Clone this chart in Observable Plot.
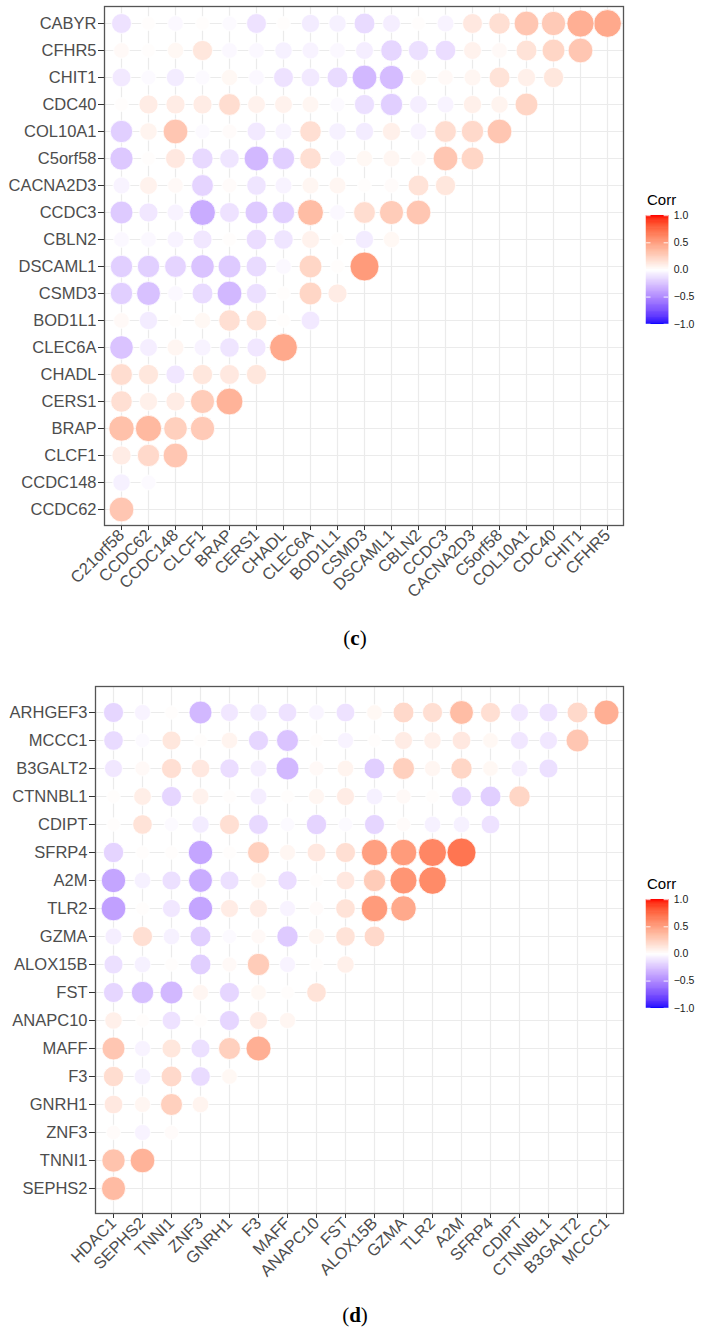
<!DOCTYPE html>
<html><head><meta charset="utf-8">
<script src="https://cdn.jsdelivr.net/npm/d3@7"></script>
<script src="https://cdn.jsdelivr.net/npm/@observablehq/plot@0.6"></script>
<style>
body{margin:0;background:#fff;}
#root{position:relative;width:710px;height:1342px;font-family:"Liberation Sans",Arial,sans-serif;background:#fff;overflow:hidden;}
.abs{position:absolute;}
.cap{position:absolute;left:0;width:710px;text-align:center;font-family:"Liberation Serif","DejaVu Serif",serif;font-size:21px;color:#000;line-height:24px;}
.ltitle{position:absolute;font-size:15px;color:#000;line-height:18px;}
</style></head><body><div id="root"></div>
<script>
// ---- Panel (c) ----
const varsC = ["C21orf58","CCDC62","CCDC148","CLCF1","BRAP","CERS1","CHADL","CLEC6A","BOD1L1","CSMD3","DSCAML1","CBLN2","CCDC3","CACNA2D3","C5orf58","COL10A1","CDC40","CHIT1","CFHR5","CABYR"];
// row i = correlations of varsC[i+1] with varsC[0..i]
const corrC = [
  [0.30],
  [-0.06,-0.02],
  [0.10,0.20,0.30],
  [0.33,0.37,0.25,0.28],
  [0.17,0.08,0.10,0.27,0.40],
  [0.18,0.13,-0.10,0.13,0.12,0.13],
  [-0.25,-0.07,0.05,-0.05,-0.11,-0.10,0.45],
  [0.03,-0.08,0.01,0.04,0.17,0.15,0.01,-0.09],
  [-0.20,-0.26,-0.03,-0.15,-0.30,-0.13,0.01,0.22,0.10],
  [-0.20,-0.20,-0.18,-0.25,-0.22,-0.15,-0.03,0.22,0.01,0.52],
  [-0.03,-0.03,-0.05,-0.10,0.01,-0.14,-0.11,0.07,0.01,-0.08,0.04],
  [-0.22,-0.10,-0.05,-0.35,-0.12,-0.22,-0.20,0.35,-0.03,0.18,0.27,0.30],
  [-0.05,0.07,0.03,-0.18,0.02,-0.11,-0.05,0.05,0.05,0.01,0.02,0.15,0.13],
  [-0.23,0.01,0.12,-0.16,-0.11,-0.30,-0.20,0.17,-0.04,0.04,0.05,0.03,0.30,0.22],
  [-0.20,0.06,0.30,-0.02,0.02,-0.09,-0.05,0.17,-0.06,-0.08,0.08,-0.05,0.18,0.20,0.30],
  [0.01,0.10,0.10,0.10,0.18,0.07,0.07,0.05,-0.02,-0.13,-0.20,-0.07,-0.05,0.08,0.06,0.22],
  [-0.09,-0.02,-0.08,-0.02,0.04,-0.03,-0.12,-0.09,-0.15,-0.30,-0.28,0.04,0.03,0.05,0.15,0.08,0.13],
  [0.03,0.01,0.04,0.13,-0.03,-0.03,-0.06,-0.05,-0.03,-0.07,-0.17,-0.13,-0.14,0.07,0.03,0.15,0.22,0.30],
  [-0.12,0.01,-0.03,0.01,-0.02,-0.12,0.01,-0.08,-0.06,-0.15,-0.07,0.01,-0.05,0.12,0.17,0.30,0.28,0.42,0.45]
];

// ---- Panel (d) ----
const varsD = ["HDAC1","SEPHS2","TNNI1","ZNF3","GNRH1","F3","MAFF","ANAPC10","FST","ALOX15B","GZMA","TLR2","A2M","SFRP4","CDIPT","CTNNBL1","B3GALT2","MCCC1","ARHGEF3"];
const corrD = [
  [0.36],
  [0.32,0.40],
  [0.02,-0.05,0.02],
  [0.12,0.05,0.25,0.06],
  [0.18,-0.06,0.20,-0.15,0.04],
  [0.30,-0.05,0.13,-0.13,0.25,0.42],
  [0.08,0.01,-0.12,0.01,-0.17,0.10,0.05],
  [-0.17,-0.27,-0.30,0.05,-0.17,0.04,0.01,0.15],
  [-0.13,-0.06,0.01,-0.20,0.03,0.27,-0.05,0.01,0.08],
  [-0.07,0.17,-0.06,-0.20,-0.02,0.03,-0.22,0.05,0.15,0.20],
  [-0.40,0.01,-0.10,-0.38,0.10,0.10,-0.05,0.02,0.15,0.52,0.45],
  [-0.38,-0.06,-0.13,-0.35,-0.13,0.04,-0.14,0.01,0.12,0.27,0.55,0.60],
  [-0.18,0.01,0.01,-0.38,0.01,0.25,0.05,0.12,0.17,0.50,0.52,0.62,0.70],
  [0.01,0.15,-0.02,-0.08,0.17,-0.16,-0.02,-0.18,-0.02,-0.17,0.02,-0.06,-0.06,-0.12],
  [0.01,0.09,-0.17,0.07,0.01,-0.07,0.01,0.05,0.10,-0.06,0.03,0.01,-0.17,-0.20,0.22],
  [-0.10,0.03,0.17,0.12,-0.14,-0.07,-0.30,0.03,0.06,-0.20,0.25,0.05,0.22,0.04,-0.07,-0.13],
  [-0.15,-0.02,0.13,0.01,0.06,-0.17,-0.25,0.01,-0.05,0.01,0.10,0.08,0.12,0.04,-0.10,-0.10,0.30],
  [-0.17,-0.05,0.01,-0.30,-0.10,-0.08,-0.12,-0.04,-0.12,0.04,0.20,0.17,0.35,0.17,-0.10,-0.12,0.20,0.42]
];

const legendTicks = [-1, -0.5, 0, 0.5, 1];
const legendTitle = "Corr";
const captions = ["c", "d"];

const colorScale = {type: "linear", domain: [-1, 0, 1], range: ["blue", "white", "red"], interpolate: d3.interpolateLab};

function corrPanel(vars, rows, o) {
  const xVars = vars.slice(0, -1);
  const yVars = vars.slice(1).reverse();
  const cells = [];
  rows.forEach((row, i) => row.forEach((v, j) => cells.push({x: vars[j], y: vars[i + 1], v, a: Math.abs(v)})));
  const maxAbs = d3.max(cells, d => d.a);
  return Plot.plot({
    width: o.width, height: o.height,
    marginLeft: o.ml, marginRight: o.mr, marginTop: o.mt, marginBottom: o.mb,
    style: {fontFamily: "Liberation Sans, Arial, sans-serif", fontSize: "16.5px", color: "#4D4D4D", background: "white", overflow: "visible"},
    x: {type: "point", domain: xVars, padding: 0.6},
    y: {type: "point", domain: yVars, padding: 0.6},
    color: colorScale,
    r: {type: "sqrt", domain: [0, maxAbs], range: [5.75, 14.5]},
    marks: [
      Plot.gridX({stroke: "#EBEBEB", strokeOpacity: 1, strokeWidth: 1.2}),
      Plot.gridY({stroke: "#EBEBEB", strokeOpacity: 1, strokeWidth: 1.2}),
      Plot.dot(cells, {x: "x", y: "y", r: "a", fill: "v", stroke: "white", strokeWidth: 0.8}),
      Plot.axisX({tickRotate: -45, tickSize: 5, tickPadding: 2, label: null, fontSize: 16.5, stroke: "#333"}),
      Plot.axisY({tickSize: 6, tickPadding: 2, label: null, fontSize: 16.5, stroke: "#333"}),
      Plot.frame({stroke: "#555", strokeWidth: 1.3})
    ]
  });
}

function legendPlot() {
  const steps = d3.range(-1, 1, 0.01);
  return Plot.plot({
    width: 80, height: 136, marginLeft: 7, marginRight: 48, marginTop: 6, marginBottom: 6,
    style: {fontFamily: "Liberation Sans, Arial, sans-serif", fontSize: "12px", color: "#1a1a1a", background: "transparent", overflow: "visible"},
    x: {domain: [0, 1], axis: null},
    y: {domain: [-1, 1], axis: null},
    color: colorScale,
    marks: [
      Plot.rect(steps, {x1: () => 0, x2: () => 1, y1: d => d, y2: d => d + 0.01, fill: d => d + 0.005, stroke: d => d + 0.005, strokeWidth: 0.6}),
      Plot.ruleY(legendTicks, {x1: () => 0, x2: () => 0.2, stroke: "white", strokeWidth: 1}),
      Plot.ruleY(legendTicks, {x1: () => 0.8, x2: () => 1, stroke: "white", strokeWidth: 1}),
      Plot.axisY(legendTicks, {anchor: "right", tickSize: 0, tickPadding: 6, tickFormat: d3.format(".1f"), fontSize: 12, label: null})
    ]
  });
}

const root = document.getElementById("root");
function place(el, left, top) {
  const wrap = document.createElement("div");
  wrap.className = "abs";
  wrap.style.left = left + "px";
  wrap.style.top = top + "px";
  wrap.appendChild(el);
  root.appendChild(wrap);
}
function caption(letter, top) {
  const d = document.createElement("div");
  d.className = "cap";
  d.style.top = top + "px";
  d.innerHTML = "(<b>" + letter + "</b>)";
  root.appendChild(d);
}
function ltitle(top) {
  const d = document.createElement("div");
  d.className = "ltitle";
  d.style.left = "647px";
  d.style.top = top + "px";
  d.textContent = legendTitle;
  root.appendChild(d);
}

place(corrPanel(varsC, corrC, {width: 640, height: 620, ml: 104, mr: 17, mt: 6, mb: 95}), 0, 0);
ltitle(191);
place(legendPlot(), 640, 210);
caption(captions[0], 626);

place(corrPanel(varsD, corrD, {width: 640, height: 638, ml: 95, mr: 17, mt: 16, mb: 95}), 0, 670);
ltitle(875);
place(legendPlot(), 640, 894);
caption(captions[1], 1303);
</script></body></html>
